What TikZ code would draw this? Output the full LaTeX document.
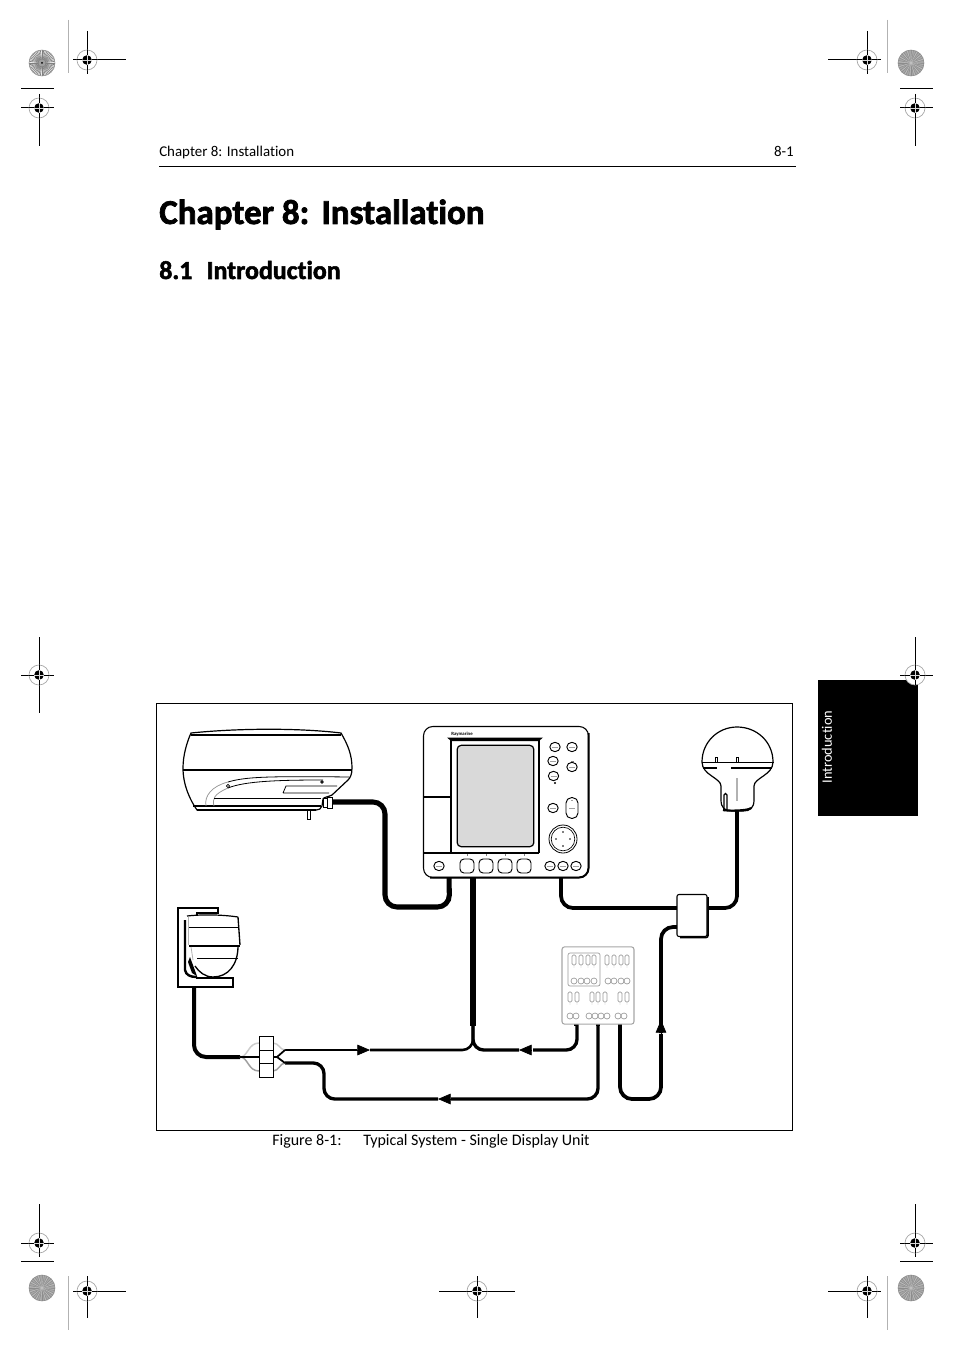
\documentclass[tikz,border=0pt]{standalone}
\usepackage{fontspec}
\setmainfont[Ligatures={NoCommon,NoContextual}]{Carlito}
\newfontfamily\heavyfont[Ligatures={NoCommon,NoContextual},BoldFeatures={FakeBold=2}]{Carlito}
\usetikzlibrary{arrows.meta,shapes.geometric}
\newcommand{\regmark}[2]{%
  \fill[white] (#1,#2) circle[radius=10];
  \draw[gray!70,line width=.5pt] (#1,#2) circle[radius=10];
  \fill[black] (#1,#2) circle[radius=4.8];
  \draw[gray!30,line width=.3pt] (#1-5,#2) -- (#1+5,#2) (#1,#2-5) -- (#1,#2+5);
}
\newcommand{\sunlight}[2]{%
  \fill[gray!15] (#1,#2) circle[radius=13];
  \foreach \a in {0,7.5,...,352.5} \draw[gray!100,line width=.45pt] (#1,#2) -- ++(\a:13);
  \fill[gray!75] (#1,#2) circle[radius=3.5];
  \fill[black] (#1,#2) circle[radius=1];
  \draw[gray!90,line width=.4pt] (#1,#2) circle[radius=13];
}
\newcommand{\sundark}[2]{%
  \fill[gray!68] (#1,#2) circle[radius=13];
  \foreach \a in {0,11.25,...,348.75} \draw[gray!90,line width=.35pt] (#1,#2) -- ++(\a:13);
  \foreach \a in {5.6,28.1,...,350} \draw[gray!45,line width=.25pt] (#1,#2) -- ++(\a:13);
  \draw[gray!90,line width=.4pt] (#1,#2) circle[radius=13];
}
\tikzset{
  hair/.style={line width=.75pt,black},
  greyrule/.style={line width=.75pt,gray!60},
  frame/.style={draw,line width=.6pt,fill=white,inner sep=0,minimum width=636*.75pt,minimum height=427*.75pt},
  cable/.style={line width=2.8pt,black,rounded corners=9pt},
  thincable/.style={line width=2.5pt,black,rounded corners=8pt},
  slimcable/.style={line width=1.9pt,black,rounded corners=8pt},
  tipcable/.style={line width=.5pt,black,-{Triangle[length=9.5pt,width=8pt]}},
  ink/.style={line width=.9pt,black},
  heavy/.style={line width=1.4pt,black},
  fine/.style={line width=.6pt,black},
  key/.style={draw,line width=.7pt,fill=white,ellipse,inner sep=0},
  softkey/.style={draw,line width=.7pt,fill=white,rounded corners=3pt,inner sep=0,minimum width=10.5pt,minimum height=10.5pt},
  panelbox/.style={draw=black,line width=.8pt,fill=white,rounded corners=7pt,inner sep=0,minimum width=165*.75pt,minimum height=151*.75pt},
  couplerbox/.style={draw=black,line width=.8pt,fill=white,rounded corners=1.5pt,inner sep=0,minimum width=22.5pt,minimum height=31.5pt},
  junction/.style={draw=black,line width=.7pt,fill=white,inner sep=0,minimum width=10.5pt,minimum height=10pt},
  instbox/.style={draw=gray!70,line width=.8pt,fill=white,rounded corners=2pt,inner sep=0,minimum width=54pt,minimum height=58pt},
  gdraw/.style={draw=gray!80,line width=.5pt},
  page/.style={inner sep=0,anchor=base west},
}
\begin{document}
\begin{tikzpicture}[x=.75pt,y=-.75pt]
\useasboundingbox (0,0) rectangle (954,1351);
\fill[white] (0,0) rectangle (954,1351);
% crop rules
\draw[greyrule] (68,20) -- (68,73) (887,20) -- (887,73) (68,1276) -- (68,1330) (887,1276) -- (887,1330);
\draw[hair] (87,31) -- (87,74) (73,60) -- (126,60)
  (867,31) -- (867,74) (828,60) -- (881,60)
  (21,89) -- (54,89) (21,108) -- (54,108) (39,94) -- (39,146)
  (900,89) -- (933,89) (900,108) -- (933,108) (915,94) -- (915,146)
  (39,637) -- (39,713) (21,675) -- (54,675)
  (915,637) -- (915,680) (900,675) -- (933,675)
  (39,1204) -- (39,1257) (21,1243) -- (54,1243) (21,1261) -- (54,1261)
  (915,1204) -- (915,1257) (900,1243) -- (933,1243) (900,1261) -- (933,1261)
  (87,1276) -- (87,1318) (73,1291) -- (126,1291)
  (867,1276) -- (867,1318) (828,1291) -- (881,1291)
  (477,1276) -- (477,1318) (439,1291) -- (515,1291);
\sunlight{42}{63}\sundark{911}{63}\sundark{42}{1288}\sundark{911}{1288}
% side tab
\fill[black] (818,680) rectangle (918,816);
\node[text=white,rotate=90,inner sep=0,anchor=center,font=\fontsize{10.8pt}{12pt}\selectfont] (tabtext) at (827,747) {Introduction};
% header
\node[page,font=\fontsize{11.2pt}{14pt}\selectfont] (hdr) at (159,157) {Chapter 8: Installation};
\node[inner sep=0,anchor=base east,font=\fontsize{11.2pt}{14pt}\selectfont] (hdrnum) at (794,157) {8-1};
\draw[line width=.75pt] (159,166.5) -- (796,166.5);
\node[page,font=\fontsize{26.2pt}{30pt}\heavyfont\bfseries\selectfont] (title) at (159,224) {Chapter 8:\hspace{.35em}Installation};
\node[page,font=\fontsize{19.4pt}{22pt}\heavyfont\bfseries\selectfont] (sect) at (159,279) {8.1\hspace{.55em}Introduction};
\node[page,font=\fontsize{12pt}{14pt}\selectfont] (figno) at (272,1145) {Figure 8-1:};
\node[page,font=\fontsize{12pt}{14pt}\selectfont] (figcap) at (363,1145) {Typical System - Single Display Unit};
% frame
\node[frame] (frm) at (474,916.5) {};
\regmark{87}{60}\regmark{867}{60}\regmark{39}{108}\regmark{915}{108}
\regmark{39}{675}\regmark{915}{675}
\regmark{39}{1243}\regmark{915}{1243}\regmark{87}{1291}\regmark{867}{1291}\regmark{477}{1291}
\draw[hair] (87,50) -- (87,55) (87,65) -- (87,70) (77,60) -- (82,60) (92,60) -- (97,60)
  (867,50) -- (867,55) (867,65) -- (867,70) (857,60) -- (862,60) (872,60) -- (877,60)
  (39,98) -- (39,103) (39,113) -- (39,118) (29,108) -- (34,108) (44,108) -- (49,108)
  (915,98) -- (915,103) (915,113) -- (915,118) (905,108) -- (910,108) (920,108) -- (925,108)
  (39,665) -- (39,670) (39,680) -- (39,685) (29,675) -- (34,675) (44,675) -- (49,675)
  (915,665) -- (915,670) (915,680) -- (915,685) (905,675) -- (910,675) (920,675) -- (925,675)
  (39,1233) -- (39,1238) (39,1248) -- (39,1253) (29,1243) -- (34,1243) (44,1243) -- (49,1243)
  (915,1233) -- (915,1238) (915,1248) -- (915,1253) (905,1243) -- (910,1243) (920,1243) -- (925,1243)
  (87,1281) -- (87,1286) (87,1296) -- (87,1301) (77,1291) -- (82,1291) (92,1291) -- (97,1291)
  (867,1281) -- (867,1286) (867,1296) -- (867,1301) (857,1291) -- (862,1291) (872,1291) -- (877,1291)
  (477,1281) -- (477,1286) (477,1296) -- (477,1301) (467,1291) -- (472,1291) (482,1291) -- (487,1291);
% ports
\coordinate (radarport) at (332,802);
\coordinate (dispa) at (449,875);
\coordinate (dispb) at (473,875);
\coordinate (dispc) at (561,875);
\coordinate (gpsport) at (737,808);
\coordinate (splitin) at (240,1057);
\coordinate (camport) at (194,985);
\coordinate (trunk) at (473,1026);
\coordinate (couplerL) at (680,908);
\coordinate (couplerR) at (705,908);
\coordinate (couplerB) at (680,927);
\coordinate (instA) at (577,1022);
\coordinate (instB) at (598,1022);
\coordinate (instC) at (620,1022);
\coordinate (outtop) at (285,1050);
\coordinate (outbot) at (285,1063);
% cables
\draw[line width=3.8pt,black,rounded corners=9pt] (radarport) -- (385,802) -- (385,907) -- (449.5,907) -- (dispa);
\draw[line width=3.8pt,black] (dispb) -- (trunk);
\draw[cable] (dispc) -- (561,908) -- (couplerL);
\draw[cable] (couplerR) -- (737,908) -- (gpsport);
\draw[cable] (couplerB) -- (661,927) -- (661,1033);
\draw[tipcable] (661,1033) -- (661,1020);
\draw[cable] (instC) -- (620,1099) -- (661,1099) -- (661,1034);
\draw[thincable] (instB) -- (598,1099) -- (451,1099);
\draw[tipcable] (450,1099) -- (438,1099);
\draw[thincable] (438,1099) -- (324,1099) -- (324,1063) -- (outbot);
\draw[thincable] (instA) -- (577,1050) -- (533,1050);
\draw[tipcable] (531,1050) -- (519,1050);
\draw[thincable] (519,1050) -- (473,1050) -- (trunk);
\draw[slimcable] (trunk) -- (473,1050) -- (370,1050);
\draw[tipcable] (357,1050) -- (370,1050);
\draw[line width=1.6pt,black] (357,1050) -- (outtop);
\draw[line width=3pt,black,rounded corners=9pt] (camport) -- (194,1057) -- (splitin);
% splitter
\draw[line width=1.1pt,gray!40] (splitin) .. controls (248,1057) and (248,1043) .. (259,1043);
\draw[line width=1.1pt,gray!75] (splitin) .. controls (248,1057) and (248,1071) .. (259,1071);
\draw[line width=1.1pt,gray!40] (273,1043) .. controls (279,1043) and (280,1050) .. (outtop);
\draw[line width=1.1pt,gray!75] (273,1071) .. controls (279,1071) and (280,1063) .. (outbot);
\draw[line width=1.5pt,black] (splitin) -- (266,1057);
\draw[line width=1.3pt,black] (270,1057) -- (277,1057) -- (outtop) (277,1057) -- (outbot);
\node[junction] (ja) at (266,1043.5) {};
\node[junction] (jb) at (266,1057) {};
\node[junction] (jc) at (266,1070.5) {};
% radar scanner
\draw[ink,fill=white] (191,733) .. controls (240,728) and (300,728) .. (341,733)
  .. controls (348,745) and (352,755) .. (352,768) .. controls (352,775) and (350,778) .. (348,780)
  -- (332,795) .. controls (328,797) and (324,797) .. (323,799) -- (322,806) .. controls (321,809) and (319,810) .. (316,810)
  -- (197,810) .. controls (190,800) and (183,785) .. (183,768) .. controls (183,755) and (187,742) .. (191,733) -- cycle;
\draw[heavy] (191,735) -- (341,735);
\draw[heavy] (183,770) -- (352,770);
\draw[heavy] (193,806) -- (321,806);
\draw[line width=.55pt,gray!85] (206,806) .. controls (204,796) and (212,786) .. (228,782);
\draw[fine] (228,782) .. controls (245,777) and (265,776) .. (349,777);
\draw[line width=.55pt,gray!85] (214,806) .. controls (212,799) and (214,794) .. (228,788);
\draw[fine] (228,788) .. controls (245,781) and (280,780) .. (323,780);
\draw[fine] (214,798) -- (321,798);
\draw[fine] (283,793) -- (286,786) -- (337,786) (283,793) -- (329,793);
\draw[fine,fill=white] (228,786) circle[radius=1.6] (322,782) circle[radius=1.2];
\draw[fine,fill=white] (307,810) rectangle (310,819);
\draw[fine,fill=white] (323,798) rectangle (327,807) (327,797) rectangle (332,808);
\draw[heavy] (316,810) -- (197,810);
% display unit
\node[panelbox] (display) at (506,802) {};
\draw[line width=1.5pt,rounded corners=7pt] (588.5,733) -- (588.5,877.5) -- (430,877.5);
\draw[ink] (424,853) -- (539,853);
\draw[ink] (451,740) -- (451,853) (539,740) -- (539,853) (424,797) -- (451,797);
\fill[black] (447,737.5) -- (543,737.5) -- (539,741) -- (451,741) -- cycle;
\node[inner sep=0,font=\fontsize{3.6pt}{4pt}\bfseries\selectfont] (brand) at (462,734) {Raymarine};
\node[draw=black,line width=.9pt,fill=gray!30,rounded corners=3pt,inner sep=0,minimum width=57.5pt,minimum height=76pt] (screen) at (495.5,796) {};
\foreach \n/\x/\y in {ka/555/747,kb/572/747,kc/553/761,kd/572/767,ke/553.5/776,kf/553/808,kg/439/866,kh/550/866,ki/563/866,kj/576/866}{
  \node[key,minimum width=7.8pt,minimum height=7pt] (\n) at (\x,\y) {};
  \draw[gray!75,line width=.7pt] (\x-3,\y) -- (\x+3,\y);
}
\node[draw,line width=.7pt,fill=white,rounded corners=4pt,inner sep=0,minimum width=9pt,minimum height=15.5pt] (pill) at (572,808) {};
\draw[gray!75,line width=.7pt] (569,808) -- (575,808);
\draw[gray!75,line width=.5pt] (571,800) -- (573,800);
\foreach \n/\x in {sa/467,sb/486,sc/505,sd/524}{
  \node[softkey] (\n) at (\x,866) {};
  \draw[fine,gray] (\x,854) -- (\x,855.5);
}
\node[draw,circle,line width=.6pt,fill=white,inner sep=0,minimum size=21pt] (pad) at (563,839) {};
\draw[line width=.5pt] (pad) circle[radius=11.8];
\fill (563,832) circle[radius=.8] (563,846) circle[radius=.8] (556,839) circle[radius=.8] (570,839) circle[radius=.8] (555,783) circle[radius=1.1];
\fill[gray] (571,760.5) rectangle (574,761.5);
% GPS antenna
\draw[ink,fill=white] (702,762) .. controls (702,742) and (718,727) .. (737,727) .. controls (757,727) and (773,742) .. (773,762)
  .. controls (773,775) and (754,778) .. (754,786) -- (754,800) .. controls (754,808) and (750,811) .. (743,811) -- (732,811)
  .. controls (725,811) and (721,808) .. (721,800) -- (721,786) .. controls (721,778) and (702,775) .. (702,762) -- cycle;
\draw[line width=1.3pt] (701.5,762.5) -- (773.5,762.5);
\draw[line width=.8pt] (703,768) -- (717,768) (731,768) -- (772,768);
\draw[fine] (715,762) -- (715,757) -- (717,757) -- (717,762) (736.5,762) -- (736.5,757) -- (738.5,757) -- (738.5,762);
\fill[gray!60] (736,778) rectangle (738,801);
\draw[line width=1pt] (724,811) -- (724,795) .. controls (724,793) and (727,793) .. (727,795) -- (727,811);
\draw[line width=1.6pt] (723,810) .. controls (727,811) and (748,811) .. (751,808);
% coupler
\draw[line width=1.2pt,rounded corners=1.5pt] (708,897) -- (708,937.5) -- (680,937.5);
\node[couplerbox] (coupler) at (692,915.5) {};
% instrument box
\draw[line width=3pt,black] (576,1020) -- (576,1026) (598,1020) -- (598,1026) (620,1020) -- (620,1026);
\node[instbox] (inst) at (598,985.5) {};
\draw[gdraw,rounded corners=1.5pt] (568,953) rectangle (600,986);
\foreach \x in {574,581,588,594,607,614,621,627}{
  \draw[gdraw,rounded corners=1pt] (\x-2,955) rectangle (\x+2,965);
  \fill[gray!80] (\x,967) circle[radius=.4];
}
\foreach \x in {574,581,587,594,608,614,621,627}
  \draw[gdraw] (\x,981) circle[radius=3];
\foreach \x in {570,577,592,598,605,620,627}{
  \draw[gdraw,rounded corners=1pt] (\x-2,992) rectangle (\x+2,1002);
  \fill[gray!80] (\x,1004) circle[radius=.4];
}
\foreach \x in {570,576,589,595,601,607,618,624}
  \draw[gdraw] (\x,1016) circle[radius=3];
% camera
\draw[line width=.8pt,fill=white] (178,908) -- (218,908) -- (218,913) -- (197,913) -- (197,978) -- (233,978) -- (233,987) -- (178,987) -- cycle;
\fill[white] (185,916) rectangle (238,977);
\draw[line width=.9pt] (187,916) .. controls (205,914) and (225,915) .. (238,917);
\draw[line width=1.8pt] (185,920) -- (185,970) .. controls (186,975) and (190,977) .. (197,977);
\draw[line width=.6pt,gray!60] (188,917) -- (188,945);
\draw[fine] (189,927) -- (239,927);
\draw[line width=1.5pt] (189,946) -- (240,946);
\draw[line width=1pt] (238,917) -- (240,945);
\draw[fine] (197,958) -- (238,958);
\draw[line width=.6pt,gray!60] (191,947) -- (193,960);
\fill[black] (190,957) -- (197,976) -- (192,973) -- (188,962) -- cycle;
\draw[line width=1pt] (238,946) .. controls (238,965) and (228,977) .. (213,977) .. controls (205,977) and (199,972) .. (195,966);
\end{tikzpicture}
\end{document}
